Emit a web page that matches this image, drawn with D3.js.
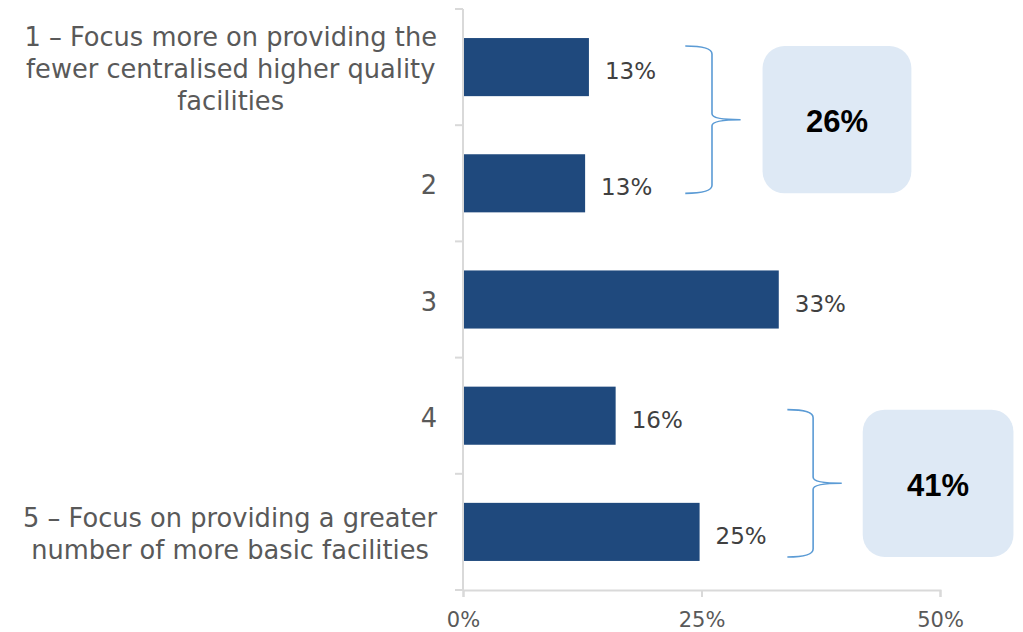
<!DOCTYPE html>
<html><head><meta charset="utf-8">
<script src="https://cdn.jsdelivr.net/npm/d3@7"></script>
<style>body{margin:0;background:#fff;} svg{display:block;}</style>
</head><body>
<svg id="chart" width="1023" height="632"></svg>
<script>
// ---- data ----
const categoryLines = [
  ["1 – Focus more on providing the", "fewer centralised higher quality", "facilities"],
  ["2"],
  ["3"],
  ["4"],
  ["5 – Focus on providing a greater", "number of more basic facilities"]
];
const values = [13.2, 12.8, 33.1, 16.0, 24.8];
const valueLabels = ["13%", "13%", "33%", "16%", "25%"];
const xTicks = [0, 25, 50];
const xTickLabels = ["0%", "25%", "50%"];
const groupFirst = [0, 3];
const groupLast = [1, 4];
const groupLabels = ["26%", "41%"];

// ---- layout ----
const svg = d3.select("#chart");
const font = "'DejaVu Sans', sans-serif";
const x = d3.scaleLinear().domain([0, 50]).range([463, 940]);
const y = d3.scaleBand().domain(d3.range(categoryLines.length)).range([9, 590])
  .paddingInner(0.5).paddingOuter(0.25);
const bw = y.bandwidth();
const axisColor = "#D9D9D9";

// annotation layout (x in data units, y offsets in px from band edges)
const annot = [
  {x0: 23.3, xs: 26.1, xt: 29.1, bx0: 31.4, bx1: 47.0, top: 8, bottom: -19},
  {x0: 34.0, xs: 36.7, xt: 39.7, bx0: 41.9, bx1: 57.7, top: 23, bottom: -4}
];

// left axis
const step = y.step();
const y0 = y.range()[0];
svg.append("line").attr("x1", x(0)).attr("x2", x(0)).attr("y1", y0).attr("y2", y.range()[1])
  .attr("stroke", axisColor).attr("stroke-width", 2);
svg.selectAll(".ytick").data(d3.range(categoryLines.length + 1)).join("line")
  .attr("x1", x(0) - 8).attr("x2", x(0))
  .attr("y1", d => y0 + d * step).attr("y2", d => y0 + d * step)
  .attr("stroke", axisColor).attr("stroke-width", 2);

// bottom axis
const xAxis = svg.append("g").attr("transform", `translate(0,${y.range()[1]})`)
  .call(d3.axisBottom(x).tickValues(xTicks).tickSize(7).tickSizeOuter(7).tickPadding(15)
    .tickFormat((d, i) => xTickLabels[i]));
xAxis.select(".domain").attr("stroke", axisColor).attr("stroke-width", 2);
xAxis.selectAll(".tick line").attr("stroke", axisColor).attr("stroke-width", 2);
xAxis.selectAll(".tick text").attr("fill", "#595959").style("font-family", font).style("font-size", "21px");

// bars
svg.selectAll(".bar").data(values).join("rect")
  .attr("x", x(0) + 1).attr("y", (d, i) => y(i))
  .attr("width", d => x(d) - x(0) - 1).attr("height", bw)
  .attr("fill", "#1F497D");

// value labels
svg.selectAll(".vlab").data(values).join("text")
  .attr("x", d => x(d) + 16).attr("y", (d, i) => y(i) + bw / 2 + 4)
  .attr("dominant-baseline", "central")
  .attr("fill", "#404040").style("font-family", font).style("font-size", "23px")
  .text((d, i) => valueLabels[i]);

// category labels
const labelRight = x(0) - 26;
const lineH = 32;
categoryLines.forEach((lines, i) => {
  const g = svg.append("g");
  const cy = y(i) + bw / 2 + 2;
  const ts = g.selectAll("text").data(lines).join("text")
    .attr("y", (d, k) => cy + (k - (lines.length - 1) / 2) * lineH)
    .attr("dominant-baseline", "central")
    .attr("text-anchor", "middle")
    .attr("fill", "#595959").style("font-family", font).style("font-size", "25.7px")
    .text(d => d);
  let W = 0;
  ts.each(function () { W = Math.max(W, this.getComputedTextLength()); });
  ts.attr("x", labelRight - W / 2);
});

// braces and boxes
groupLabels.forEach((lab, gi) => {
  const a = annot[gi];
  const top = y(groupFirst[gi]) + a.top;
  const bot = y(groupLast[gi]) + bw + a.bottom;
  const mid = (top + bot) / 2;
  const X0 = x(a.x0), XS = x(a.xs), XT = x(a.xt);
  const p = `M${X0},${top} Q${XS},${top} ${XS},${top + 8} L${XS},${mid - 6} Q${XS},${mid} ${XT},${mid}` +
    ` Q${XS},${mid} ${XS},${mid + 6} L${XS},${bot - 8} Q${XS},${bot} ${X0},${bot}`;
  svg.append("path").attr("d", p).attr("fill", "none").attr("stroke", "#5B9BD5").attr("stroke-width", 1.6);
  svg.append("rect").attr("x", x(a.bx0)).attr("y", top).attr("width", x(a.bx1) - x(a.bx0))
    .attr("height", bot - top).attr("rx", 22).attr("ry", 22).attr("fill", "#DEE9F5");
  svg.append("text").attr("x", (x(a.bx0) + x(a.bx1)) / 2).attr("y", mid + 2)
    .attr("text-anchor", "middle").attr("dominant-baseline", "central")
    .attr("fill", "#000").style("font-family", "'Liberation Sans', Arial, sans-serif")
    .style("font-weight", "bold").style("font-size", "31px").text(lab);
});
</script>
</body></html>
